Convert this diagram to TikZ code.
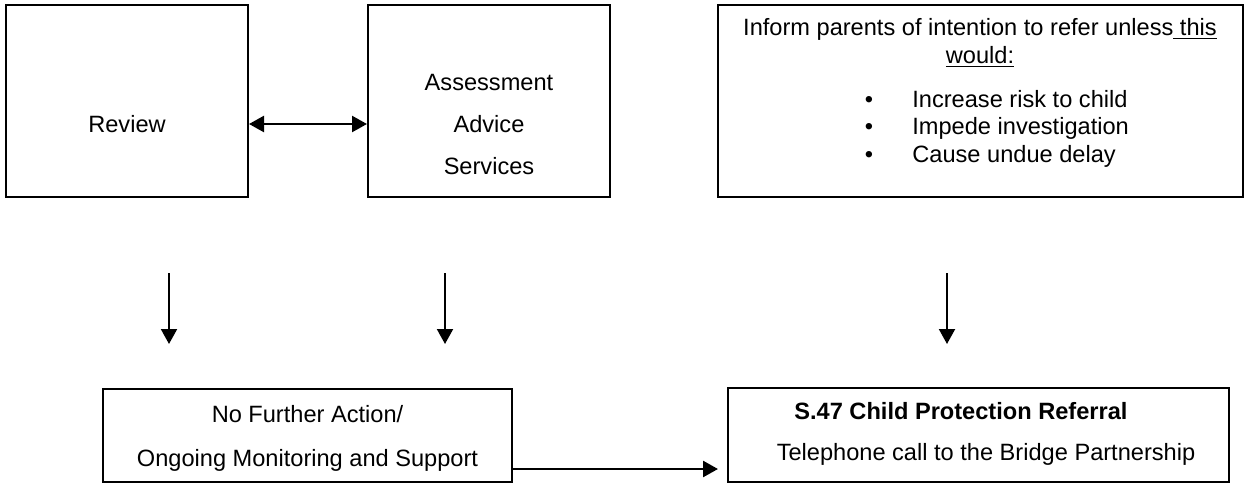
\documentclass[tikz,border=0pt]{standalone}
\usepackage{fontspec}
\setmainfont{Liberation Sans}
\usetikzlibrary{arrows.meta}
\begin{document}
\begin{tikzpicture}[x=0.5pt,y=-0.5pt,
  box/.style={draw,line width=1pt,rectangle,inner sep=0pt},
  txt/.style={anchor=base,inner sep=0pt,font=\fontsize{11.8}{14}\selectfont},
  arr/.style={line width=1pt,-{Triangle[length=7.5pt,width=8pt]}},
  harr/.style={line width=1.3pt,-{Triangle[length=7.5pt,width=8pt]}},
  dbl/.style={line width=1.2pt,{Triangle[length=7.5pt,width=8pt]}-{Triangle[length=7.5pt,width=8pt]}}
  ]
\useasboundingbox (0,0) rectangle (1244,483);
% boxes
\node[box,minimum width=121pt,minimum height=96pt] (review) at (127,101) {};
\node[box,minimum width=121pt,minimum height=96pt] (aas) at (489,101) {};
\node[box,minimum width=262.5pt,minimum height=96pt] (inform) at (980.5,101) {};
\node[box,minimum width=204.5pt,minimum height=46.5pt] (nfa) at (307.5,435.5) {};
\node[box,minimum width=250.5pt,minimum height=47pt] (s47) at (978.5,435) {};
% texts
\node[txt] (reviewtxt) at (127,132) {Review};
\node[txt] (assess) at (489,90) {Assessment};
\node[txt] (advice) at (489,132) {Advice};
\node[txt] (services) at (489,174) {Services};
\node[txt] (inf1) at (980,35) {Inform parents of intention to refer unless\underline{\ this}};
\node[txt] (inf2) at (980,63) {\underline{would:}};
\node[txt] (bul1) at (869,107) {\textbullet};
\node[txt] (bul2) at (869,134) {\textbullet};
\node[txt] (bul3) at (869,162) {\textbullet};
\node[txt,anchor=base west] (it1) at (912,107) {Increase risk to child};
\node[txt,anchor=base west] (it2) at (912,134) {Impede investigation};
\node[txt,anchor=base west] (it3) at (912,162) {Cause undue delay};
\node[txt] (nfa1) at (307.5,422) {No Further Action/};
\node[txt] (nfa2) at (307.5,466) {Ongoing Monitoring and Support};
\node[txt,anchor=base west] (s471) at (794,419) {\bfseries S.47 Child Protection Referral};
\node[txt] (s472) at (986,460) {Telephone call to the Bridge Partnership};
% connector coordinates
\coordinate (dy) at (0,124);
\coordinate (hy) at (0,469);
\coordinate (htip) at (718,469);
\coordinate (d1s) at (169,273);
\coordinate (d1e) at (169,344);
\coordinate (d2s) at (445,273);
\coordinate (d2e) at (445,344);
\coordinate (d3s) at (947,273);
\coordinate (d3e) at (947,344);
% connectors
\draw[dbl] (review.east |- dy) -- (aas.west |- dy);
\draw[arr] (d1s) -- (d1e);
\draw[arr] (d2s) -- (d2e);
\draw[arr] (d3s) -- (d3e);
\draw[harr] (nfa.east |- hy) -- (htip);
\end{tikzpicture}
\end{document}
